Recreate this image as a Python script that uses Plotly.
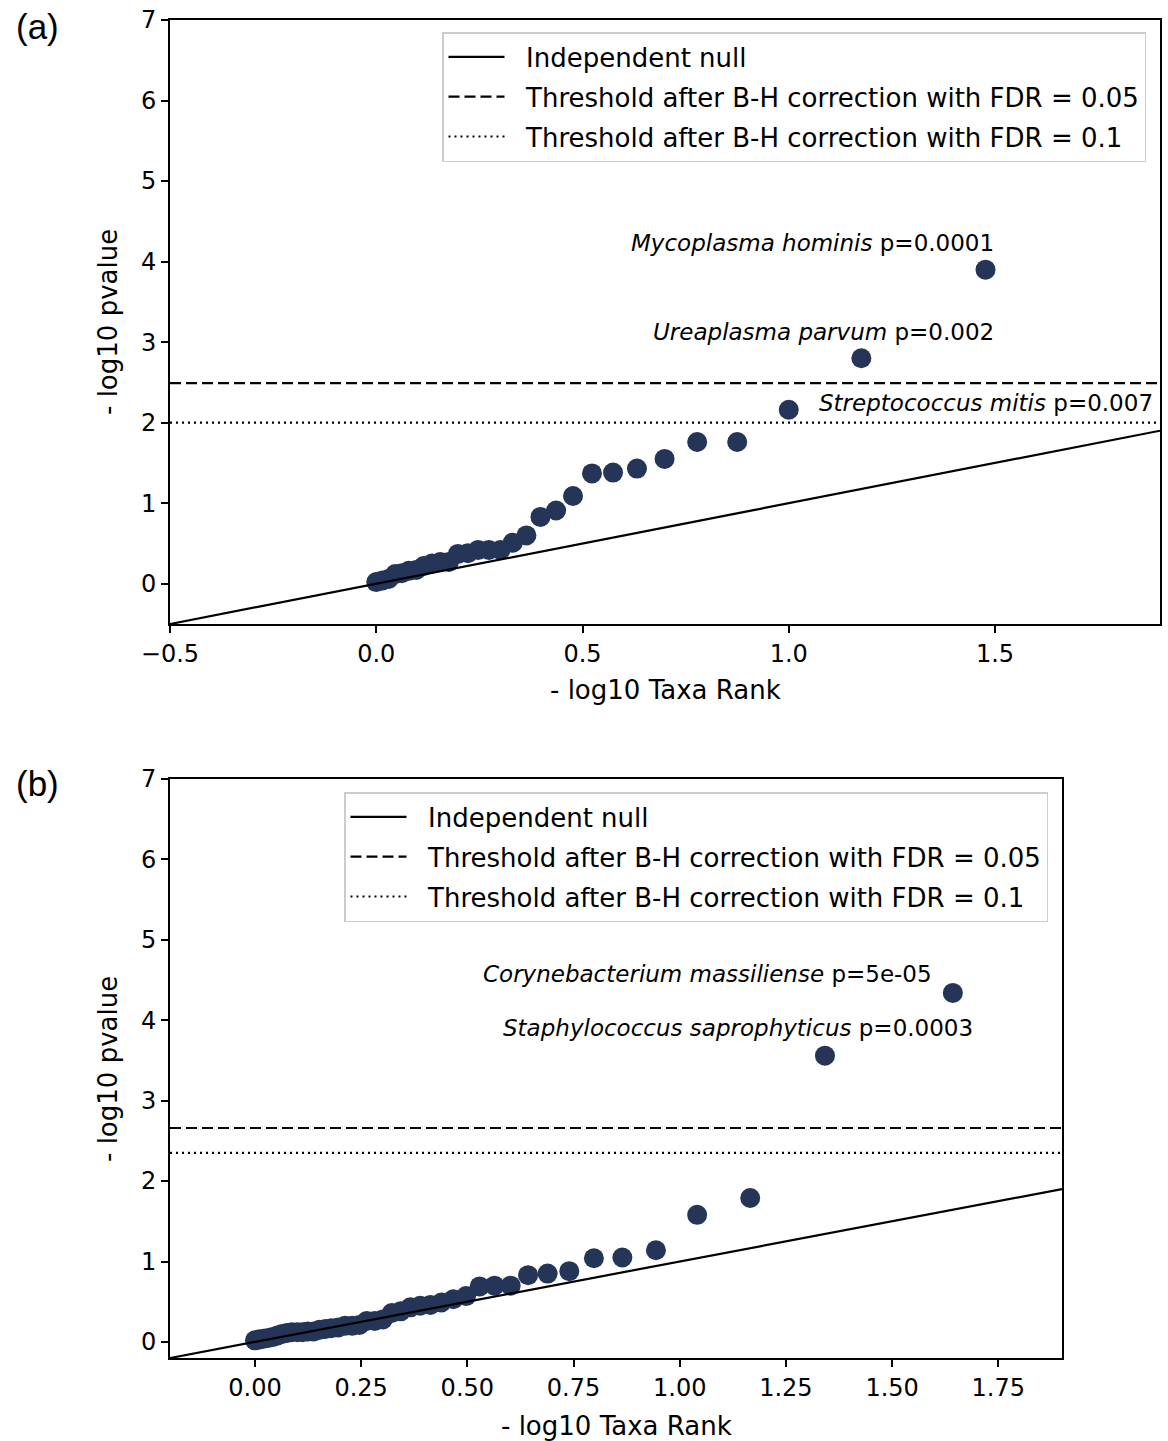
import plotly.graph_objects as go

# ---------------- data ----------------
# Panel (a)
rank_a = [1.477, 1.176, 1.000, 0.875, 0.778, 0.699, 0.632, 0.574, 0.523, 0.477,
          0.436, 0.398, 0.364, 0.331, 0.301, 0.273, 0.247, 0.222, 0.198, 0.176,
          0.155, 0.135, 0.115, 0.097, 0.079, 0.062, 0.046, 0.030, 0.015, 0.000]
pval_a = [3.90, 2.80, 2.16, 1.76, 1.76, 1.55, 1.43, 1.38, 1.37, 1.09,
          0.91, 0.83, 0.60, 0.51, 0.42, 0.42, 0.42, 0.38, 0.37, 0.27,
          0.27, 0.25, 0.22, 0.17, 0.16, 0.13, 0.12, 0.06, 0.04, 0.02]
xrange_a = [-0.5, 1.9]
yrange_a = [-0.5, 7]
null_a = [-0.5, 1.9]
fdr05_a = 2.49
fdr10_a = 2.00
labels_a = [
    ("Mycoplasma hominis", "p=0.0001", 1.502, 4.23, "right"),
    ("Ureaplasma parvum", "p=0.002", 1.502, 3.13, "right"),
    ("Streptococcus mitis", "p=0.007", 1.068, 2.25, "left"),
]

# Panel (b)
rank_b = [1.643, 1.342, 1.166, 1.041, 0.944, 0.865, 0.798, 0.740, 0.689, 0.643,
          0.602, 0.564, 0.529, 0.497, 0.467, 0.439, 0.413, 0.389, 0.366, 0.343,
          0.322, 0.301, 0.282, 0.263, 0.246, 0.229, 0.212, 0.196, 0.180, 0.166,
          0.152, 0.138, 0.124, 0.112, 0.100, 0.087, 0.075, 0.064, 0.053, 0.042,
          0.031, 0.020, 0.010, 0.000]
pval_b = [4.34, 3.56, 1.79, 1.58, 1.14, 1.05, 1.04, 0.88, 0.85, 0.83,
          0.70, 0.70, 0.69, 0.57, 0.53, 0.49, 0.46, 0.45, 0.43, 0.38,
          0.36, 0.28, 0.26, 0.26, 0.21, 0.20, 0.20, 0.18, 0.17, 0.16,
          0.15, 0.13, 0.13, 0.12, 0.12, 0.12, 0.11, 0.10, 0.08, 0.06,
          0.05, 0.04, 0.03, 0.02]
xrange_b = [-0.2, 1.9]
yrange_b = [-0.2, 7]
null_b = [-0.2, 1.9]
fdr05_b = 2.66
fdr10_b = 2.35
labels_b = [
    ("Corynebacterium massiliense", "p=5e-05", 1.598, 4.57, "right"),
    ("Staphylococcus saprophyticus", "p=0.0003", 1.696, 3.90, "right"),
]

legend_names = ["Independent null",
                "Threshold after B-H correction with FDR = 0.05",
                "Threshold after B-H correction with FDR = 0.1"]

# ---------------- style ----------------
W, H = 1168, 1441
FONT = "DejaVu Sans"
DOT = "#243558"
GAP = "\u00a0\u00a0"  # spacing between legend sample and label

def px_x(p):
    return p / W

def px_y(p):
    return 1 - p / H

fig = go.Figure()

def add_panel(xs, ys, xr, nl, t05, t10, xa, ya, leg):
    fig.add_trace(go.Scatter(x=xs, y=ys, mode="markers", xaxis=xa, yaxis=ya,
                             marker=dict(size=20, color=DOT, line=dict(width=0)),
                             showlegend=False, hoverinfo="x+y"))
    styles = [None, "11px,5px", "2px,4px"]
    levels = [nl, [t05, t05], [t10, t10]]
    xs_l = [nl, xr, xr]
    for i in range(3):
        line = dict(color="black", width=2.2)
        if styles[i]:
            line["dash"] = styles[i]
        fig.add_trace(go.Scatter(x=xs_l[i], y=levels[i], mode="lines", xaxis=xa, yaxis=ya,
                                 line=line, name=GAP + legend_names[i], legend=leg,
                                 legendgroup=f"{leg}_{i}"))

add_panel(rank_a, pval_a, xrange_a, null_a, fdr05_a, fdr10_a, "x", "y", "legend")
add_panel(rank_b, pval_b, xrange_b, null_b, fdr05_b, fdr10_b, "x2", "y2", "legend2")

axis_common = dict(showline=True, linecolor="black", linewidth=2, mirror=True,
                   ticks="outside", ticklen=7, tickwidth=2, tickcolor="black",
                   showgrid=False, zeroline=False, automargin=False,
                   tickfont=dict(family=FONT, size=24, color="black"))

legend_common = dict(xanchor="right", yanchor="top", bgcolor="white",
                     bordercolor="#cccccc", borderwidth=1.5, itemwidth=56,
                     tracegroupgap=3,
                     font=dict(family=FONT, size=26, color="black"))

fig.update_layout(
    template="none",
    width=W, height=H, margin=dict(l=0, r=0, t=0, b=0, autoexpand=False),
    plot_bgcolor="white", paper_bgcolor="white",
    font=dict(family=FONT, size=24, color="black"),
    xaxis=dict(domain=[px_x(170), px_x(1160)], range=xrange_a, anchor="y",
               dtick=0.5, tick0=0, tickformat=".1f", **axis_common),
    yaxis=dict(domain=[px_y(624), px_y(20)], range=yrange_a, anchor="x",
               dtick=1, tick0=0, **axis_common),
    xaxis2=dict(domain=[px_x(170), px_x(1062)], range=xrange_b, anchor="y2",
                dtick=0.25, tick0=0, tickformat=".2f", **axis_common),
    yaxis2=dict(domain=[px_y(1358), px_y(779)], range=yrange_b, anchor="x2",
                dtick=1, tick0=0, **axis_common),
    legend=dict(x=px_x(1146), y=px_y(32), **legend_common),
    legend2=dict(x=px_x(1048), y=px_y(792), **legend_common),
)

# species annotations
for (name, p, x, y, anc) in labels_a:
    fig.add_annotation(x=x, y=y, xref="x", yref="y", text=f"<i>{name}</i> {p}",
                       showarrow=False, xanchor=anc, yanchor="middle",
                       font=dict(family=FONT, size=23, color="black"))
for (name, p, x, y, anc) in labels_b:
    fig.add_annotation(x=x, y=y, xref="x2", yref="y2", text=f"<i>{name}</i> {p}",
                       showarrow=False, xanchor=anc, yanchor="middle",
                       font=dict(family=FONT, size=23, color="black"))

# axis titles and panel letters
def paper_text(text, x, y, size, angle=0, family=FONT):
    fig.add_annotation(x=px_x(x), y=px_y(y), xref="paper", yref="paper", text=text,
                       showarrow=False, xanchor="center", yanchor="middle",
                       textangle=angle, font=dict(family=family, size=size, color="black"))

paper_text("- log10 Taxa Rank", 665, 690, 26)
paper_text("- log10 pvalue", 108, 322, 26, angle=-90)
paper_text("- log10 Taxa Rank", 616, 1426, 26)
paper_text("- log10 pvalue", 108, 1069, 26, angle=-90)
paper_text("(a)", 37, 27, 35, family="Liberation Sans")
paper_text("(b)", 37, 783, 35, family="Liberation Sans")

fig.write_html("out.html", config={"displayModeBar": False},
               post_script="document.body.style.margin='0px';")
